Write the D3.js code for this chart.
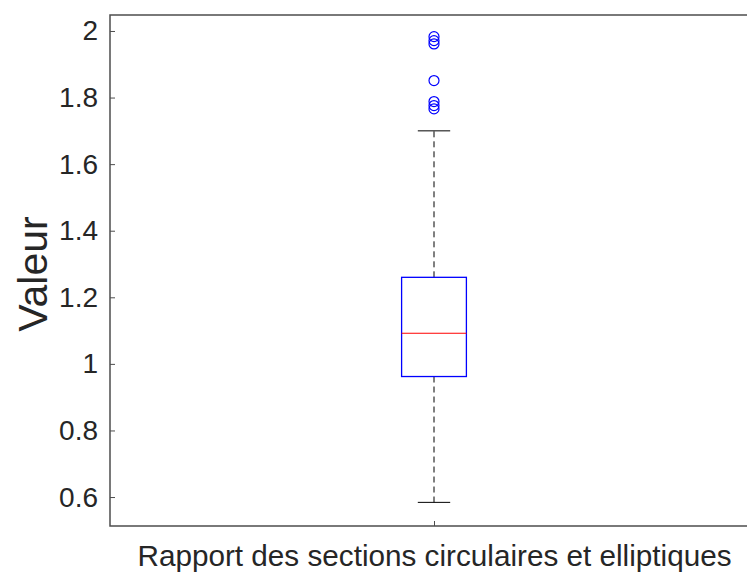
<!DOCTYPE html>
<html><head><meta charset="utf-8">
<script src="https://cdn.jsdelivr.net/npm/d3@7"></script>
<style>body{margin:0;background:#fff}svg{display:block}text{font-family:"Liberation Sans",Arial,sans-serif}</style>
</head><body>
<svg id="c" width="747" height="572"></svg>
<script>
const categories = ["Rapport des sections circulaires et elliptiques"];
const boxStats = [{q1: 0.962, median: 1.092, q3: 1.260, lowWhisker: 0.584, highWhisker: 1.700}];
const outliers = [1.983, 1.971, 1.961, 1.851, 1.788, 1.776, 1.766];
const yTicks = [0.6, 0.8, 1, 1.2, 1.4, 1.6, 1.8, 2];
const yLabel = "Valeur";

const svg = d3.select("#c");
const L = 110, R = 758, T = 15, B = 526;
const y = d3.scaleLinear().domain([0.513, 2.048]).range([B, T]);
const x = d3.scaleLinear().domain([0.5, 1.5]).range([L, R]);
const axisColor = "#4d4d4d";
const textColor = "#262626";

const g = svg.append("g");
g.append("rect").attr("x", L).attr("y", T).attr("width", R - L).attr("height", B - T)
  .attr("fill", "none").attr("stroke", axisColor).attr("stroke-width", 1.5);

const ya = g.append("g").attr("transform", `translate(${L},0)`)
  .call(d3.axisLeft(y).tickValues(yTicks).tickSize(-5).tickPadding(12).tickFormat(d3.format("")));
ya.select(".domain").remove();
ya.selectAll("line").attr("stroke", axisColor);
ya.selectAll("text").attr("font-size", 28).attr("fill", textColor);

const xa = g.append("g").attr("transform", `translate(0,${B})`)
  .call(d3.axisBottom(x).tickValues([1]).tickSize(-5).tickPadding(0).tickFormat((d, i) => categories[i]));
xa.select(".domain").remove();
xa.selectAll("line").attr("stroke", axisColor);
xa.selectAll("text").attr("font-size", 29.7).attr("fill", textColor)
  .attr("dy", null).attr("y", 566 - B);

g.append("text").attr("transform", `translate(47,274) rotate(-90)`)
  .attr("text-anchor", "middle").attr("font-size", 41).attr("fill", textColor).text(yLabel);

boxStats.forEach((s, i) => {
  const cx = x(i + 1), bw = x(1.05) - x(0.95), cw = x(1.025) - x(0.975);
  g.append("line").attr("x1", cx).attr("x2", cx).attr("y1", y(s.q3)).attr("y2", y(s.highWhisker))
    .attr("stroke", "#000").attr("stroke-dasharray", "6,4");
  g.append("line").attr("x1", cx).attr("x2", cx).attr("y1", y(s.q1)).attr("y2", y(s.lowWhisker))
    .attr("stroke", "#000").attr("stroke-dasharray", "6,4");
  [s.highWhisker, s.lowWhisker].forEach(v => {
    g.append("line").attr("x1", cx - cw / 2).attr("x2", cx + cw / 2).attr("y1", y(v)).attr("y2", y(v))
      .attr("stroke", "#000");
  });
  g.append("rect").attr("x", cx - bw / 2).attr("y", y(s.q3)).attr("width", bw).attr("height", y(s.q1) - y(s.q3))
    .attr("fill", "none").attr("stroke", "#0000ff").attr("stroke-width", 1.3);
  g.append("line").attr("x1", cx - bw / 2).attr("x2", cx + bw / 2).attr("y1", y(s.median)).attr("y2", y(s.median))
    .attr("stroke", "#ff0000").attr("stroke-width", 1.2);
  g.selectAll(null).data(outliers).enter().append("circle")
    .attr("cx", cx).attr("cy", d => y(d)).attr("r", 5)
    .attr("fill", "none").attr("stroke", "#0000ff").attr("stroke-width", 1.2);
});
</script>
</body></html>
